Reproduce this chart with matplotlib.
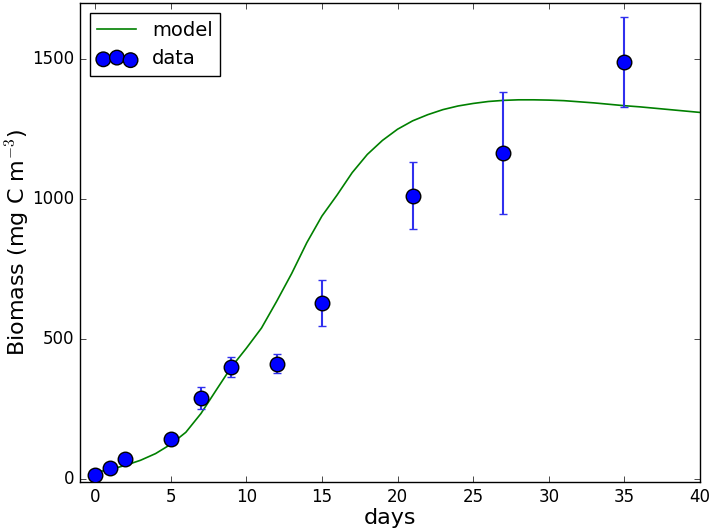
import matplotlib.pyplot as plt

# observed biomass
days_obs = [0, 1, 2, 5, 7, 9, 12, 15, 21, 27, 35]
biomass_obs = [15, 40, 72, 143, 290, 400, 413, 629, 1013, 1165, 1490]
biomass_err = [0, 0, 0, 0, 40, 36, 35, 82, 120, 217, 160]

# model output
days_mod = list(range(0, 41))
biomass_mod = [25, 35, 50, 68, 92, 125, 168, 235, 318, 400, 468, 540, 635, 735,
               845, 940, 1015, 1095, 1160, 1210, 1250, 1280, 1302, 1320, 1333,
               1342, 1349, 1353, 1355, 1355, 1354, 1352, 1348, 1344, 1339, 1334,
               1330, 1325, 1320, 1315, 1310]

plt.style.use('classic')
fig = plt.figure(figsize=(7.11, 5.31), dpi=100)
ax = fig.add_axes([0.1125, 0.092, 0.872, 0.902])

ax.plot(days_mod, biomass_mod, color='green', lw=1.2, label='model')
ax.errorbar(days_obs, biomass_obs, yerr=biomass_err, fmt='none',
            ecolor='#3030ee', elinewidth=1.5, capsize=3, capthick=1)
ax.scatter(days_obs, biomass_obs, s=110, c='blue', edgecolors='black',
           linewidths=1, zorder=3, label='data')

ax.set_xlim(-1, 40)
ax.set_ylim(-10, 1700)
ax.set_xticks([0, 5, 10, 15, 20, 25, 30, 35, 40])
ax.set_yticks([0, 500, 1000, 1500])
ax.tick_params(labelsize=12)
ax.set_xlabel('days', fontsize=16, labelpad=2)
ax.set_ylabel('Biomass (mg C m$^{-3}$)', fontsize=16, labelpad=0)
ax.legend(loc='upper left', fontsize=14, scatterpoints=3, numpoints=1)

fig.savefig('out.png', dpi=100)
